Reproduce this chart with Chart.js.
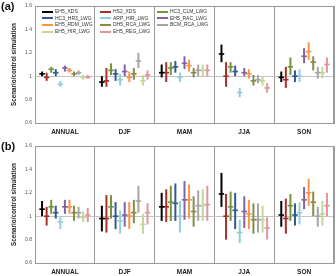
<!DOCTYPE html>
<html lang="en">
<head>
  <meta charset="UTF-8" />
  <title>Scenario/control ratios</title>
  <script src="https://cdn.jsdelivr.net/npm/chart.js"></script>
  <style>
    body { margin: 0; background: #fff; font-family: "Liberation Sans", Arial, sans-serif; }
    .wrap { position: relative; width: 336px; height: 276px; }
    .panel { position: absolute; left: 0; width: 336px; height: 138px; }
    .tag { position: absolute; left: 1px; font: bold 11px "Liberation Sans", Arial, sans-serif; color: #111; }
    .legend { position: absolute; left: 42px; top: 8px; width: 200px; }
    .item { position: absolute; font-size: 5px; color: #333; white-space: nowrap; line-height: 6px; }
    .item i { display: inline-block; width: 11px; height: 2px; vertical-align: middle; margin-right: 2px; }
  </style>
</head>
<body>
<div class="wrap">
  <div class="panel" style="top:0"><canvas id="chartA" width="336" height="138"></canvas></div>
  <div class="panel" style="top:138px"><canvas id="chartB" width="336" height="138"></canvas></div>
  <div class="tag" style="top:0">(a)</div>
  <div class="tag" style="top:140px">(b)</div>
  <div class="legend" id="legend"></div>
</div>

<script>
const categories = ['ANNUAL', 'DJF', 'MAM', 'JJA', 'SON'];
const models = ['EH5_XDS', 'HS2_XDS', 'HC3_CLM_LWG', 'HC3_HR3_LWG', 'ARP_HIR_LWG', 'EH5_RAC_LWG',
                'EH5_RDM_LWG', 'DH5_RCA_LWG', 'BCM_RCA_LWG', 'EH5_HIR_LWG', 'EH5_REG_LWG'];
const yTicks = [0.6, 0.8, 1, 1.2, 1.4, 1.6];

// panel (a): central value, lower and upper end per model, one column per season
const aMid = [
  [1.02, 0.95, 1.03, 1.19, 0.99],
  [0.99, 0.96, 1.03, 1.00, 0.97],
  [1.06, 1.05, 1.07, 1.08, 1.08],
  [1.03, 1.02, 1.08, 1.04, 1.00],
  [0.93, 0.97, 0.99, 0.86, 1.00],
  [1.07, 1.04, 1.11, 1.03, 1.17],
  [1.05, 0.99, 1.09, 1.02, 1.21],
  [1.02, 1.02, 1.03, 0.96, 1.12],
  [1.03, 1.13, 1.05, 0.97, 1.03],
  [0.99, 0.96, 1.05, 0.96, 1.03],
  [0.99, 1.01, 1.05, 0.90, 1.10]
];
const aLow = [
  [1.00, 0.91, 0.99, 1.12, 0.95],
  [0.96, 0.91, 0.95, 0.91, 0.90],
  [1.03, 1.01, 1.01, 1.03, 1.01],
  [1.00, 0.96, 1.03, 1.00, 0.95],
  [0.91, 0.92, 0.95, 0.82, 0.95],
  [1.04, 1.00, 1.06, 1.00, 1.11],
  [1.03, 0.95, 1.04, 0.98, 1.14],
  [1.00, 0.97, 0.99, 0.92, 1.05],
  [1.01, 1.07, 1.00, 0.94, 0.98],
  [0.97, 0.92, 1.00, 0.92, 0.98],
  [0.98, 0.97, 1.00, 0.86, 1.03]
];
const aHigh = [
  [1.04, 1.00, 1.10, 1.27, 1.04],
  [1.03, 1.07, 1.12, 1.12, 1.08],
  [1.08, 1.11, 1.12, 1.12, 1.16],
  [1.06, 1.06, 1.13, 1.09, 1.05],
  [0.96, 1.02, 1.03, 0.90, 1.06],
  [1.09, 1.10, 1.17, 1.07, 1.24],
  [1.07, 1.04, 1.14, 1.06, 1.29],
  [1.04, 1.07, 1.07, 1.01, 1.17],
  [1.05, 1.20, 1.10, 1.01, 1.08],
  [1.01, 1.01, 1.10, 1.00, 1.08],
  [1.01, 1.05, 1.10, 0.94, 1.16]
];

// panel (b)
const bMid = [
  [1.06, 0.98, 1.08, 1.19, 1.01],
  [1.00, 0.98, 1.08, 1.00, 0.98],
  [1.08, 1.08, 1.12, 1.08, 1.09],
  [1.03, 1.00, 1.11, 1.05, 1.01],
  [0.95, 0.96, 1.00, 0.86, 1.03],
  [1.08, 1.01, 1.14, 1.04, 1.14],
  [1.08, 1.00, 1.14, 1.02, 1.20],
  [1.03, 1.03, 1.04, 0.97, 1.12],
  [1.03, 1.13, 1.09, 0.97, 1.00],
  [0.99, 0.93, 1.09, 0.97, 1.02],
  [1.01, 1.03, 1.10, 0.90, 1.09]
];
const bLow = [
  [1.00, 0.87, 0.96, 1.08, 0.91],
  [0.92, 0.86, 0.95, 0.80, 0.85],
  [1.02, 0.98, 0.96, 0.96, 0.96],
  [0.98, 0.89, 0.96, 0.89, 0.92],
  [0.89, 0.85, 0.86, 0.77, 0.93],
  [1.02, 0.91, 0.97, 0.90, 1.06],
  [1.02, 0.89, 0.98, 0.89, 1.09],
  [0.96, 0.94, 0.91, 0.85, 1.00],
  [0.98, 1.03, 0.96, 0.86, 0.91],
  [0.95, 0.85, 0.96, 0.86, 0.92],
  [0.95, 0.93, 0.96, 0.80, 1.00]
];
const bHigh = [
  [1.13, 1.09, 1.20, 1.37, 1.13],
  [1.08, 1.18, 1.23, 1.19, 1.15],
  [1.14, 1.18, 1.26, 1.21, 1.19],
  [1.09, 1.12, 1.28, 1.20, 1.11],
  [0.99, 1.05, 1.13, 0.97, 1.12],
  [1.14, 1.12, 1.30, 1.17, 1.25],
  [1.14, 1.12, 1.27, 1.14, 1.32],
  [1.09, 1.14, 1.17, 1.11, 1.21],
  [1.08, 1.26, 1.22, 1.11, 1.08],
  [1.04, 1.02, 1.23, 1.09, 1.13],
  [1.07, 1.11, 1.26, 0.99, 1.20]
];

const colors = ['#000000', '#a8302c', '#77933c', '#2f5b8f', '#93cddd', '#8064a2',
                '#f79646', '#8a8a48', '#a6a6a6', '#c3d69b', '#e0969a'];
const FONT = '"Liberation Sans", Arial, sans-serif';

// html legend, three columns
const legend = document.getElementById('legend');
const colX = [0, 58, 115];
models.forEach((m, i) => {
  const d = document.createElement('div');
  d.className = 'item';
  d.style.left = colX[i % 3] + 'px';
  d.style.top = (Math.floor(i / 3) * 6.7) + 'px';
  d.innerHTML = '<i style="background:' + colors[i] + '"></i>' + m;
  legend.appendChild(d);
});

const boxPlugin = {
  id: 'box',
  afterDatasetsDraw(chart) {
    const { ctx, chartArea: a } = chart;
    ctx.save();
    ctx.strokeStyle = '#9a9a9a';
    ctx.lineWidth = 1;
    ctx.strokeRect(Math.round(a.left) + 0.5, Math.round(a.top) + 0.5,
                   Math.round(a.right - a.left) - 1, Math.round(a.bottom - a.top));
    ctx.restore();
  }
};

function makeChart(id, mid, low, high, padTop, xHeight) {
  const datasets = [];
  models.forEach((m, i) => {
    datasets.push({
      label: m,
      stack: 's' + i,
      data: categories.map((c, j) => [low[i][j], high[i][j]]),
      backgroundColor: colors[i],
      barPercentage: 1,
      maxBarThickness: 2
    });
    datasets.push({
      label: m + ' mean',
      stack: 's' + i,
      data: categories.map((c, j) => [mid[i][j] - 0.007, mid[i][j] + 0.007]),
      backgroundColor: colors[i],
      barPercentage: 1.2,
      maxBarThickness: 6
    });
  });

  return new Chart(document.getElementById(id), {
    type: 'bar',
    data: { labels: categories, datasets: datasets },
    options: {
      responsive: false,
      animation: false,
      devicePixelRatio: 1,
      categoryPercentage: 0.84,
      borderSkipped: false,
      layout: { padding: { top: padTop, right: 2, left: 0, bottom: 0 } },
      plugins: { legend: { display: false }, tooltip: { enabled: false } },
      scales: {
        x: {
          stacked: true,
          grid: { color: '#9a9a9a', drawTicks: false, offset: true },
          border: { color: '#9a9a9a' },
          ticks: { color: '#222', padding: 5, font: { family: FONT, size: 6.5, weight: 'bold' } },
          afterFit: s => { s.height = xHeight; }
        },
        y: {
          stacked: false,
          min: 0.6,
          max: 1.6,
          afterBuildTicks: s => { s.ticks = yTicks.map(v => ({ value: v })); },
          grid: {
            drawTicks: false,
            color: c => (c.tick && c.tick.value === 1 ? '#c4c4c4' : 'rgba(0,0,0,0)')
          },
          border: { color: '#9a9a9a' },
          ticks: { color: '#555', padding: 3, font: { family: FONT, size: 5 },
                   callback: v => String(v) },
          title: {
            display: true,
            text: 'Scenario/control simulation',
            color: '#222',
            padding: { top: 10, bottom: 0 },
            font: { family: FONT, size: 6.3, weight: 'bold' }
          },
          afterFit: s => { s.width = 35; }
        }
      }
    },
    plugins: [boxPlugin]
  });
}

makeChart('chartA', aMid, aLow, aHigh, 6, 15);
makeChart('chartB', bMid, bLow, bHigh, 8, 13);
</script>
</body>
</html>
